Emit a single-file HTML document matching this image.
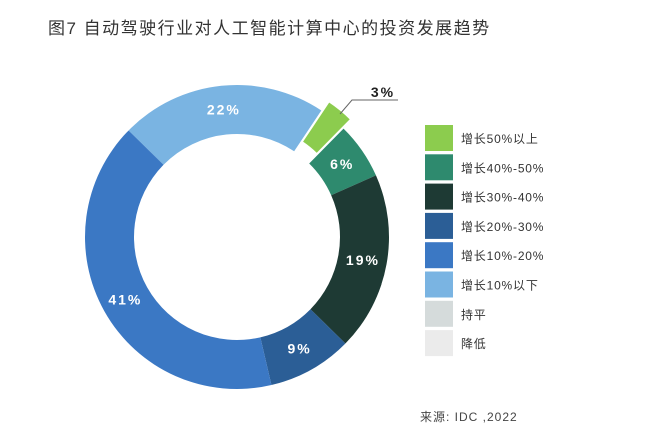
<!DOCTYPE html>
<html><head><meta charset="utf-8"><style>
html,body{margin:0;padding:0;background:#fff;}
body{width:660px;height:442px;overflow:hidden;font-family:"Liberation Sans","Noto Sans CJK SC",sans-serif;}
</style></head><body>
<svg width="660" height="442" viewBox="0 0 660 442">
<text x="48" y="34" font-size="17" fill="#333" letter-spacing="1.5" font-family="Liberation Sans,Noto Sans CJK SC,sans-serif">图7 自动驾驶行业对人工智能计算中心的投资发展趋势</text>
<g id="slices"></g>
<g id="labels"></g>
<g id="legend"></g>
<polyline points="340,114 352,100 398,100" fill="none" stroke="#666" stroke-width="1"/>
<text x="420" y="421" font-size="12" fill="#444" letter-spacing="1">来源: IDC ,2022</text>
</svg>
<script>
const categories=["增长10%以下","增长50%以上","增长40%-50%","增长30%-40%","增长20%-30%","增长10%-20%"];
const values=[22,3,6,19,9,41];
const sliceColors=["#7ab4e2","#8ccc4e","#2e8a6e","#1e3a34","#2b5e96","#3b78c4"];
const legendLabels=["增长50%以上","增长40%-50%","增长30%-40%","增长20%-30%","增长10%-20%","增长10%以下","持平","降低"];
const legendColors=["#8ccc4e","#2e8a6e","#1e3a34","#2b5e96","#3b78c4","#7ab4e2","#d5dbdb","#ebebeb"];
const NS="http://www.w3.org/2000/svg";
const cx=237,cy=237,R=152,r0=103,startDeg=-45.5;
const total=values.reduce((a,b)=>a+b,0);
function pt(deg,rad,ox,oy){const a=deg*Math.PI/180;return [cx+ox+rad*Math.sin(a),cy+oy-rad*Math.cos(a)];}
const gS=document.getElementById('slices'),gL=document.getElementById('labels'),gG=document.getElementById('legend');
let ang=startDeg;
values.forEach((v,i)=>{
  const sweep=v/total*360,a0=ang,a1=ang+sweep,mid=(a0+a1)/2;
  let ox=0,oy=0;
  if(i===1){const m=mid*Math.PI/180;ox=12*Math.sin(m);oy=-12*Math.cos(m);}
  const p0=pt(a0,R,ox,oy),p1=pt(a1,R,ox,oy),q1=pt(a1,r0,ox,oy),q0=pt(a0,r0,ox,oy);
  const lg=sweep>180?1:0;
  const p=document.createElementNS(NS,'path');
  p.setAttribute('d',`M${p0[0]},${p0[1]}A${R},${R} 0 ${lg} 1 ${p1[0]},${p1[1]}L${q1[0]},${q1[1]}A${r0},${r0} 0 ${lg} 0 ${q0[0]},${q0[1]}Z`);
  p.setAttribute('fill',sliceColors[i]);
  if(i===1){p.setAttribute('stroke','#fff');p.setAttribute('stroke-width','2');}
  
  
  gS.appendChild(p);
  const t=document.createElementNS(NS,'text');
  if(i===1){t.setAttribute('x',383);t.setAttribute('y',97);t.setAttribute('fill','#222');}
  else{const lp=pt(mid,128,0,0);t.setAttribute('x',lp[0]);t.setAttribute('y',lp[1]+5);t.setAttribute('fill','#fff');}
  t.setAttribute('text-anchor','middle');
  t.setAttribute('font-size','14');t.setAttribute('font-weight','bold');t.setAttribute('letter-spacing','2');
  t.textContent=v+'%';
  
  
  gL.appendChild(t);
  ang=a1;
});
legendLabels.forEach((l,i)=>{
  const y=125+i*29.3;
  const g=document.createElementNS(NS,'g');
  
  
  const rc=document.createElementNS(NS,'rect');
  rc.setAttribute('x',425);rc.setAttribute('y',y);rc.setAttribute('width',28);rc.setAttribute('height',26);rc.setAttribute('fill',legendColors[i]);
  
  
  const t=document.createElementNS(NS,'text');
  t.setAttribute('x',461);t.setAttribute('y',y+18);t.setAttribute('font-size','12');t.setAttribute('fill','#333');t.setAttribute('letter-spacing','0.8');
  t.textContent=l;
  
  
  g.appendChild(rc);g.appendChild(t);gG.appendChild(g);
});
</script>
</body></html>
